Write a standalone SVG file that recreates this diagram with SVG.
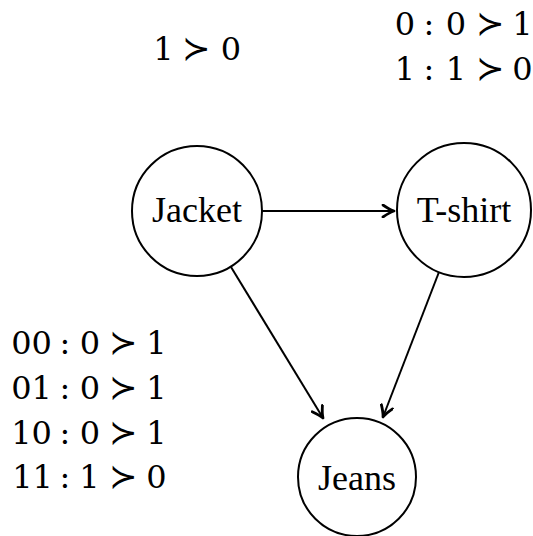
<svg xmlns="http://www.w3.org/2000/svg" width="533" height="536" viewBox="0 0 533 536">
<style>
.node circle{fill:#fff;stroke:#000;stroke-width:2}
.node text{font-family:"Liberation Serif","Times New Roman",serif;font-size:36px;text-anchor:middle;fill:#000}
.edge{stroke:#000;stroke-width:2;fill:none;marker-end:url(#arr)}
.lbl{font-family:"DejaVu Serif","Liberation Serif",serif;font-size:32px;fill:#000;text-anchor:middle}
.op{font-family:"DejaVu Sans","Noto Sans",sans-serif;font-size:34px;font-weight:200}
</style>
<defs>
<marker id="arr" viewBox="-13 -7 15 14" refX="0" refY="0" markerWidth="15" markerHeight="14" markerUnits="userSpaceOnUse" orient="auto">
<path d="M-11,-6 Q-4,-1.2 0,0 Q-4,1.2 -11,6" fill="none" stroke="#000" stroke-width="2.8" stroke-linecap="round" stroke-linejoin="round"/>
</marker>
</defs>
<g id="connectors">
<line class="edge" x1="262" y1="211" x2="394" y2="211"/>
<line class="edge" x1="231" y1="267" x2="323" y2="418"/>
<line class="edge" x1="439" y1="272" x2="383" y2="417"/>
</g>
<g id="jacket" class="node"><circle cx="197" cy="211" r="65"/><text x="197" y="222">Jacket</text></g>
<g id="tshirt" class="node"><circle cx="464" cy="210" r="67"/><text x="464" y="222">T-shirt</text></g>
<g id="jeans" class="node"><circle cx="357" cy="477" r="59"/><text x="357" y="490">Jeans</text></g>
<g id="labels">
<text class="lbl" y="60"><tspan x="163.5">1</tspan><tspan class="op" x="195.5">≻</tspan><tspan x="231">0</tspan></text>
<text class="lbl" y="35"><tspan x="405">0</tspan><tspan x="429">:</tspan><tspan x="456">0</tspan><tspan class="op" x="489.5">≻</tspan><tspan x="522.5">1</tspan></text>
<text class="lbl" y="80"><tspan x="405">1</tspan><tspan x="429">:</tspan><tspan x="456">1</tspan><tspan class="op" x="489.5">≻</tspan><tspan x="522.5">0</tspan></text>
<text class="lbl" y="354"><tspan x="31.5">00</tspan><tspan x="65">:</tspan><tspan x="90">0</tspan><tspan class="op" x="122.5">≻</tspan><tspan x="156.5">1</tspan></text>
<text class="lbl" y="399"><tspan x="31.5">01</tspan><tspan x="65">:</tspan><tspan x="90">0</tspan><tspan class="op" x="122.5">≻</tspan><tspan x="156.5">1</tspan></text>
<text class="lbl" y="444"><tspan x="31.5">10</tspan><tspan x="65">:</tspan><tspan x="90">0</tspan><tspan class="op" x="122.5">≻</tspan><tspan x="156.5">1</tspan></text>
<text class="lbl" y="488"><tspan x="32.5">11</tspan><tspan x="65">:</tspan><tspan x="89.5">1</tspan><tspan class="op" x="122.5">≻</tspan><tspan x="156.5">0</tspan></text>
</g>
</svg>
